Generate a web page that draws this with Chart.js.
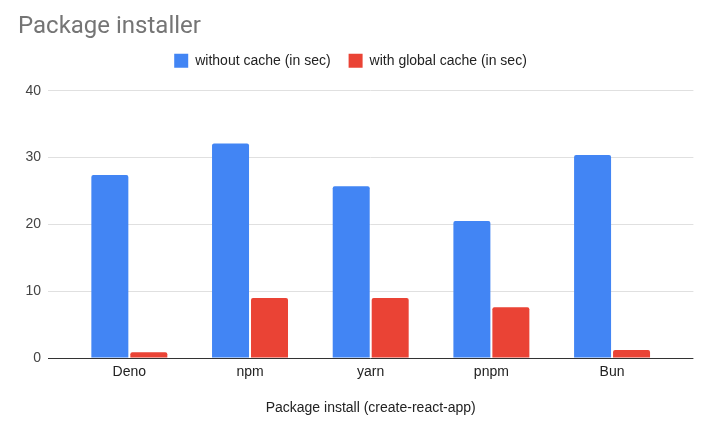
<!DOCTYPE html>
<html>
<head>
<meta charset="utf-8">
<script src="https://cdn.jsdelivr.net/npm/chart.js@4"></script>
<style>
  body { margin: 0; background: #fff; }
</style>
</head>
<body>
<canvas id="installChart" width="707" height="431"></canvas>
<script>
// valeurs
const categories = ["Deno", "npm", "yarn", "pnpm", "Bun"];
const withoutCache = [27.4, 32.1, 25.7, 20.5, 30.4];
const withGlobalCache = [0.85, 9.0, 9.0, 7.6, 1.2];
const yTicks = [0, 10, 20, 30, 40];

const gridColor = (ctx) => (ctx.tick && ctx.tick.value === 0 ? "#333333" : "#e0e0e0");

// remonter un peu la légende sans toucher à la zone du graphique
const legendShift = {
  id: "legendShift",
  afterLayout(chart) {
    const lg = chart.legend;
    if (!lg) return;
    lg.top -= 13; lg.bottom -= 13;
    lg.left -= 3; lg.right -= 3;
  }
};

new Chart(document.getElementById("installChart"), {
  type: "bar",
  data: {
    labels: categories,
    datasets: [
      {
        label: "without cache (in sec)",
        data: withoutCache,
        backgroundColor: "#4285F4",
        borderRadius: { topLeft: 2, topRight: 2 },
        borderSkipped: "bottom"
      },
      {
        label: "with global cache (in sec)",
        data: withGlobalCache,
        backgroundColor: "#EA4335",
        borderRadius: { topLeft: 2, topRight: 2 },
        borderSkipped: "bottom"
      }
    ]
  },
  options: {
    responsive: false,
    animation: false,
    layout: { padding: { left: 18, right: 18, top: 0, bottom: 0 } },
    datasets: {
      bar: { categoryPercentage: 0.646, barPercentage: 0.949 }
    },
    plugins: {
      title: {
        display: true,
        text: "Package installer",
        align: "start",
        color: "#757575",
        font: { family: "Roboto", size: 24, weight: "normal" },
        padding: { top: 13, bottom: 7 }
      },
      legend: {
        position: "top",
        labels: {
          boxWidth: 14,
          boxHeight: 14,
          padding: 18,
          color: "#222222",
          font: { family: "Liberation Sans, Arial", size: 14 }
        }
      },
      tooltip: { enabled: false }
    },
    scales: {
      x: {
        grid: { display: false, drawTicks: false },
        border: { display: false },
        ticks: {
          color: "#222222",
          padding: 6,
          font: { family: "Liberation Sans, Arial", size: 14 }
        },
        title: {
          display: true,
          text: "Package install (create-react-app)",
          color: "#222222",
          font: { family: "Liberation Sans, Arial", size: 14 },
          padding: { top: 4, bottom: 14 }
        },
        afterFit: (scale) => { scale.height = 73; }
      },
      y: {
        position: "left",
        min: yTicks[0],
        max: yTicks[yTicks.length - 1],
        afterBuildTicks: (scale) => { scale.ticks = yTicks.map(v => ({ value: v })); },
        grid: { color: gridColor, tickColor: gridColor, tickLength: 21, lineWidth: 1 },
        border: { display: false },
        ticks: {
          color: "#444444",
          padding: 7,
          font: { family: "Liberation Sans, Arial", size: 14 }
        },
        afterFit: (scale) => { scale.width = 51; }
      },
      y2: {
        position: "right",
        min: yTicks[0],
        max: yTicks[yTicks.length - 1],
        afterBuildTicks: (scale) => { scale.ticks = yTicks.map(v => ({ value: v })); },
        grid: { drawOnChartArea: false, color: gridColor, tickColor: gridColor, tickLength: 21 },
        border: { display: false },
        ticks: { display: false },
        afterFit: (scale) => { scale.width = 16.6; }
      }
    }
  },
  plugins: [legendShift]
});
</script>
</body>
</html>
